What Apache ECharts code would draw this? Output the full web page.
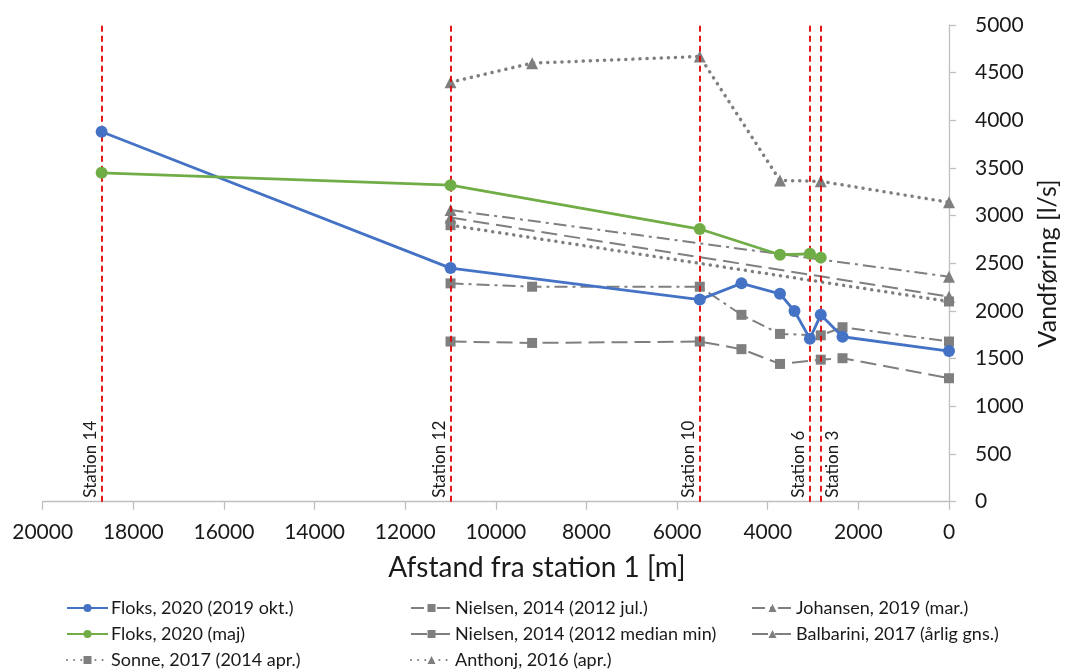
<!DOCTYPE html>
<html>
<head>
<meta charset="utf-8">
<script src="https://cdn.jsdelivr.net/npm/echarts@6/dist/echarts.min.js"></script>
<style>html,body{margin:0;padding:0;background:#fff;}#c{width:1068px;height:669px;}</style>
</head>
<body>
<div id="c"></div>
<script>
// ---- data ----
const stationPos = [18700, 11000, 5500, 3070, 2830];
const stationNames = ['Station 14', 'Station 12', 'Station 10', 'Station 6', 'Station 3'];

const floksOktX = [18700, 11000, 5500, 4580, 3730, 3410, 3070, 2830, 2350, 0];
const floksOktY = [3880, 2450, 2120, 2290, 2180, 2000, 1710, 1960, 1730, 1580];

const floksMajX = [18700, 11000, 5500, 3730, 3070, 2830];
const floksMajY = [3450, 3320, 2860, 2590, 2600, 2560];

const nielsenX = [11000, 9200, 5500, 4580, 3730, 2830, 2350, 0];
const nielsenJulY = [2290, 2255, 2255, 1960, 1760, 1745, 1830, 1680];
const nielsenMinY = [1680, 1665, 1680, 1600, 1445, 1490, 1505, 1295];

const twoPointX = [11000, 0];
const johansenY = [3060, 2360];
const balbariniY = [2980, 2150];
const sonneY = [2900, 2100];

const anthonjX = [11000, 9200, 5500, 3730, 2830, 0];
const anthonjY = [4400, 4600, 4670, 3370, 3360, 3140];

const xTicks = { min: 0, max: 20000, interval: 2000 };
const yTicks = { min: 0, max: 5000, interval: 500 };

const names = {
  floksOkt: 'Floks, 2020 (2019 okt.)',
  floksMaj: 'Floks, 2020 (maj)',
  nielsenJul: 'Nielsen, 2014 (2012 jul.)',
  nielsenMin: 'Nielsen, 2014 (2012 median min)',
  johansen: 'Johansen, 2019 (mar.)',
  balbarini: 'Balbarini, 2017 (årlig gns.)',
  sonne: 'Sonne, 2017 (2014 apr.)',
  anthonj: 'Anthonj, 2016 (apr.)'
};

// ---- build ----
const zip = (xs, ys) => xs.map((x, i) => [x, ys[i]]);
const FONT = 'Lato';
const TXT = '#1a1a1a';
const GRAY = '#7f7f7f';

function grayLine(name, data, symbol, dash, z) {
  return {
    name, type: 'line', data, symbol, symbolSize: symbol === 'triangle' ? 12 : 10,
    z: z || 2,
    itemStyle: { color: GRAY },
    lineStyle: { color: GRAY, width: dash === 'dot' ? 3.5 : 2,
      type: dash === 'dot' ? [0.1, 7] : dash,
      cap: dash === 'dot' ? 'round' : 'butt' }
  };
}

const dashDot = [13, 5, 3, 5];
const longDash = [16, 7];

const series = [
  {
    name: names.floksOkt, type: 'line', data: zip(floksOktX, floksOktY), z: 5,
    symbol: 'circle', symbolSize: 12,
    itemStyle: { color: '#4472c4' }, lineStyle: { color: '#4472c4', width: 2.8 }
  },
  {
    name: names.floksMaj, type: 'line', data: zip(floksMajX, floksMajY), z: 5,
    symbol: 'circle', symbolSize: 12,
    itemStyle: { color: '#70ad47' }, lineStyle: { color: '#70ad47', width: 2.8 }
  },
  grayLine(names.nielsenJul, zip(nielsenX, nielsenJulY), 'rect', dashDot),
  grayLine(names.nielsenMin, zip(nielsenX, nielsenMinY), 'rect', longDash),
  grayLine(names.johansen, zip(twoPointX, johansenY), 'triangle', dashDot),
  grayLine(names.balbarini, zip(twoPointX, balbariniY), 'triangle', longDash),
  grayLine(names.sonne, zip(twoPointX, sonneY), 'rect', 'dot'),
  grayLine(names.anthonj, zip(anthonjX, anthonjY), 'triangle', 'dot'),
  {
    name: 'stations', type: 'line', data: [], z: 1,
    markLine: {
      silent: true, symbol: ['none', 'none'], animation: false,
      lineStyle: { color: '#e00000', type: [6, 4], width: 1.8 },
      data: stationPos.map((p, i) => ({
        xAxis: p, name: stationNames[i],
        label: {
          show: true, formatter: stationNames[i],
          position: i === stationPos.length - 1 ? 'insideStartBottom' : 'insideStartTop',
          fontFamily: FONT, fontSize: 17, color: TXT, distance: [4, 3]
        }
      }))
    }
  }
];

const legendBase = {
  orient: 'vertical', top: 594, height: 120, padding: [5, 5, 0, 5],
  itemWidth: 41, itemHeight: 10, itemGap: 8,
  textStyle: { fontFamily: FONT, fontSize: 18, lineHeight: 18, color: TXT, padding: [0, 0, 0, -2] },
  selectedMode: false
};

const plainNum = v => String(v);

const option = {
  animation: false,
  backgroundColor: '#fff',
  grid: { left: 42.7, right: 117.5, top: 25, bottom: 167.3, containLabel: false },
  xAxis: {
    type: 'value', inverse: true, min: xTicks.min, max: xTicks.max, interval: xTicks.interval,
    name: 'Afstand fra station 1 [m]', nameLocation: 'middle', nameGap: 52,
    nameTextStyle: { fontFamily: FONT, fontSize: 28, color: TXT, padding: [0, 0, 0, 82] },
    axisLine: { show: true, lineStyle: { color: '#bfbfbf', width: 1.3 } },
    axisTick: { show: true, length: 8, lineStyle: { color: '#bfbfbf', width: 1.3 } },
    axisLabel: { fontFamily: FONT, fontSize: 21, color: TXT, margin: 20, formatter: plainNum },
    splitLine: { show: false }
  },
  yAxis: {
    type: 'value', position: 'right', min: yTicks.min, max: yTicks.max, interval: yTicks.interval,
    name: 'Vandføring [l/s]', nameLocation: 'middle', nameGap: 86, nameRotate: 90,
    nameTextStyle: { fontFamily: FONT, fontSize: 25, color: TXT },
    axisLine: { show: true, lineStyle: { color: '#bfbfbf', width: 1.3 } },
    axisTick: { show: true, length: 7, lineStyle: { color: '#bfbfbf', width: 1.3 } },
    axisLabel: { fontFamily: FONT, fontSize: 21, color: TXT, margin: 26, formatter: plainNum },
    splitLine: { show: false }
  },
  legend: [
    Object.assign({}, legendBase, { left: 61, data: [names.floksOkt, names.floksMaj, names.sonne] }),
    Object.assign({}, legendBase, { left: 405, data: [names.nielsenJul, names.nielsenMin, names.anthonj] }),
    Object.assign({}, legendBase, { left: 746, data: [names.johansen, names.balbarini] })
  ],
  series
};

const chart = echarts.init(document.getElementById('c'), null, { renderer: 'canvas' });
chart.setOption(option);
</script>
</body>
</html>
